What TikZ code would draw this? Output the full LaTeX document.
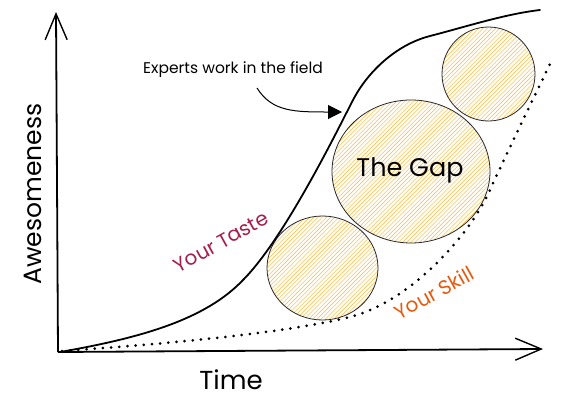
\documentclass[tikz,border=0pt]{standalone}
\usepackage{fontspec}
\setmainfont{Poppins}
\usetikzlibrary{arrows.meta}
\definecolor{hatch}{RGB}{250,196,90}
\definecolor{taste}{HTML}{A61E4D}
\definecolor{skill}{HTML}{E8590C}
\definecolor{rim}{RGB}{40,40,40}
\tikzset{
  axis/.style={line width=1.8pt, -{Straight Barb[length=26pt,width=22pt,line width=1.4pt]}},
  hatchline/.style={draw=hatch, line width=0.6pt},
  rimline/.style={draw=rim, line width=0.8pt},
  lbl/.style={inner sep=0pt, font=\fontsize{#1}{#1}\selectfont},
}
\newcommand\hatchcirc[4]{%
  \begin{scope}
    \clip (#1,#2) ellipse [x radius=#3, y radius=#4];
    \foreach \k in {-240,-235.8,...,240}
      \draw[hatchline] (#1+\k-120,#2+120) -- (#1+\k+120,#2-120);
  \end{scope}
  \draw[rimline] (#1,#2) ellipse [x radius=#3, y radius=#4];
}
\begin{document}
\begin{tikzpicture}[x=1pt,y=-1pt]
\useasboundingbox (0,0) rectangle (564,407);
% circles
\hatchcirc{322.5}{268}{55.5}{52}
\hatchcirc{488.5}{74}{46.5}{47}
\hatchcirc{411}{171.5}{79}{71.5}
% axes
\coordinate (O) at (58,352);
\coordinate (ytip) at (56,12);
\coordinate (xtip) at (543,349);
\draw[axis] (O) -- (ytip);
\draw[axis] (O) -- (xtip);
% taste curve
\draw[line width=1.8pt, line cap=round]
  (60,352) .. controls (140,338) and (205,320) .. (243,280)
  .. controls (285,238) and (339,127) .. (353,100)
  .. controls (367,73) and (395,45) .. (430,36)
  .. controls (465,27) and (505,14) .. (540,10);
% skill curve
\draw[line width=3pt, line cap=round, dash pattern=on 0pt off 8.2pt]
  (62,351) .. controls (180,343) and (290,332) .. (350,317)
  .. controls (410,302) and (470,235) .. (490,190)
  .. controls (500,167.5) and (530,105) .. (552,60);
% expert arrow
\coordinate (e1) at (257,88);
\coordinate (e2) at (342,112);
\draw[line width=1pt, -{Triangle[length=14pt,width=14pt]}] (e1) .. controls (272,112) and (295,112) .. (e2);
% labels
\node[lbl=15.5] (experts) at (233,70) {Experts work in the field};
\node[lbl=25.5] (gap) at (410,170) {The Gap};
\node[lbl=20, text=taste, rotate=29] (tastel) at (221,242) {Your Taste};
\node[lbl=20, text=skill, rotate=29] (skilll) at (434,293) {Your Skill};
\node[lbl=25, rotate=90] (awe) at (33,194) {Awesomeness};
\node[lbl=26] (time) at (231,380) {Time};
\end{tikzpicture}
\end{document}
